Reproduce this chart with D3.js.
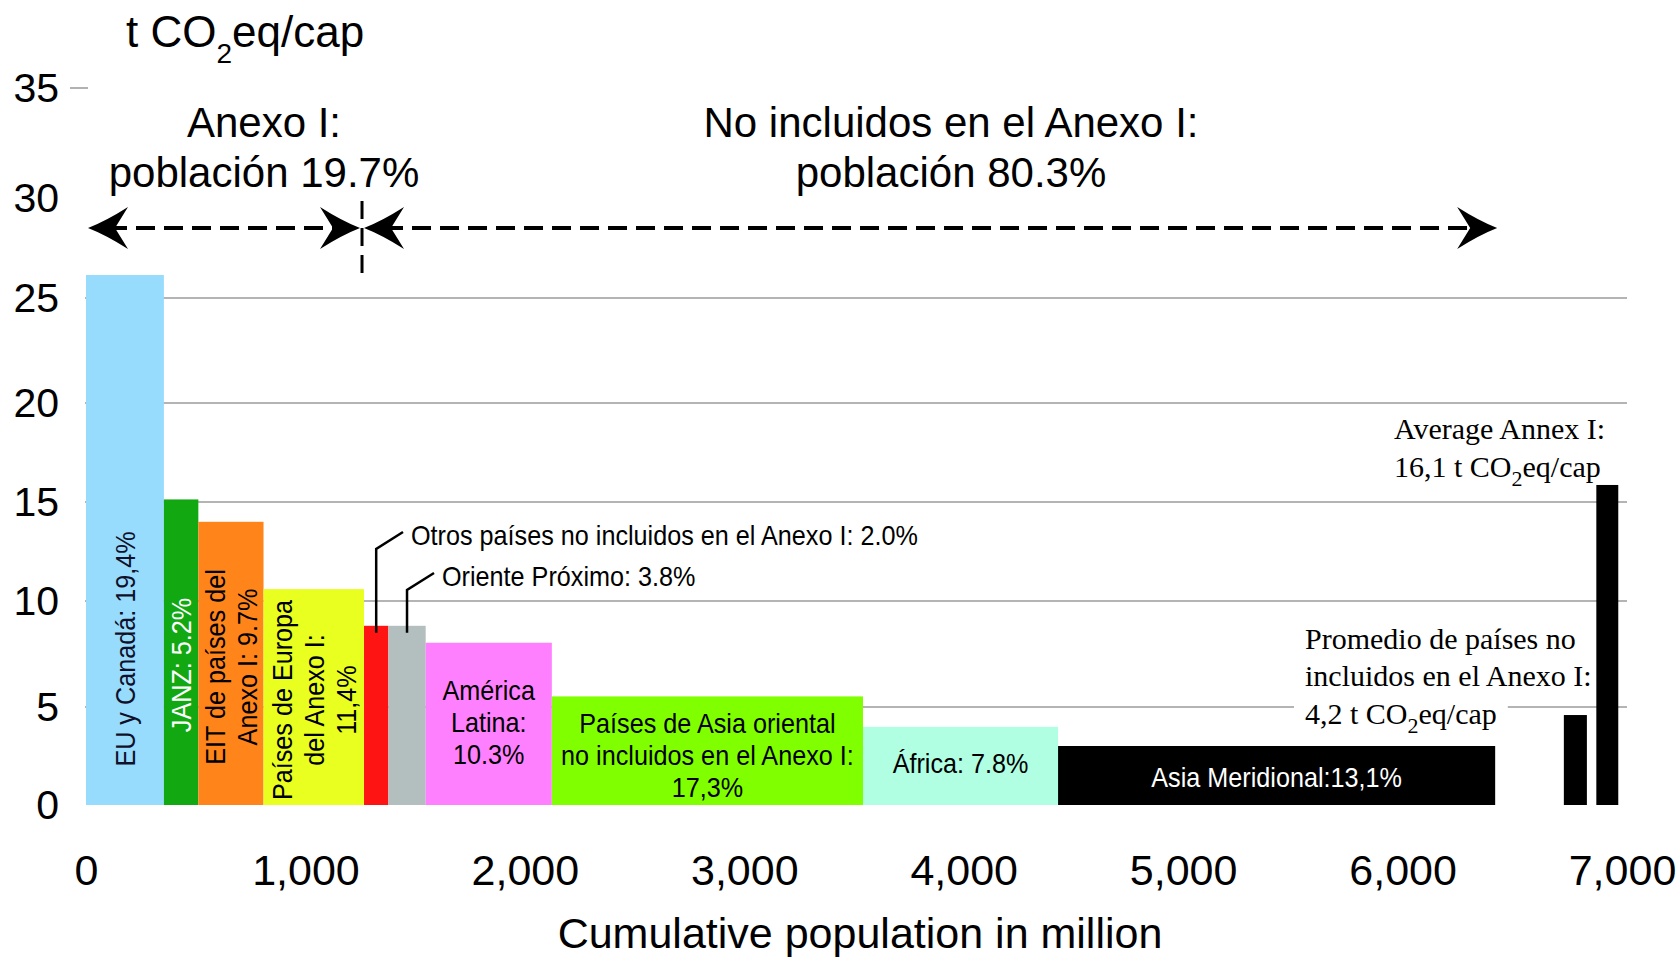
<!DOCTYPE html>
<html>
<head>
<meta charset="utf-8">
<script src="https://d3js.org/d3.v7.min.js"></script>
<style>
  body { margin: 0; background: #fff; }
  svg { display: block; font-family: "Liberation Sans", Arial, Helvetica, sans-serif; }
</style>
</head>
<body>
<svg id="chart" width="1679" height="957"></svg>
<script>

// regions in order along the cumulative population axis
var regions = ["EU y Canadá", "JANZ", "EIT de países del Anexo I", "Países de Europa del Anexo I",
  "Otros países no incluidos en el Anexo I", "Oriente Próximo", "América Latina",
  "Países de Asia oriental no incluidos en el Anexo I", "África", "Asia Meridional"];
// cumulative population (million) at the right edge of each block
var popEnd = [355, 512, 809, 1267, 1378, 1548, 2123, 3541, 4430, 6422];
// t CO2eq per capita (bar height)
var perCap = [26.15, 15.13, 14.0, 10.6, 8.83, 8.83, 8.03, 5.5, 3.99, 3.01];
// share of global emissions
var shares = ["19,4%", "5.2%", "9.7%", "11,4%", "2.0%", "3.8%", "10.3%", "17,3%", "7.8%", "13,1%"];
var colors = ["#97dcfd", "#11a811", "#ff841a", "#e9ff1f", "#ff1414", "#b3bfbf",
  "#ff80ff", "#80ff00", "#b0ffe2", "#000000"];

// the two average bars on the right
var avgFrom = [6735, 6883];
var avgTo = [6840, 6983];
var avgValue = [4.59, 15.86];
var avgText = ["4,2", "16,1"];

// population split Annex I / non Annex I
var annexShare = ["19.7%", "80.3%"];

var yTicks = [0, 5, 10, 15, 20, 25, 30, 35];
var yGrid = [5, 10, 15, 20, 25];
var xTicks = [0, 1000, 2000, 3000, 4000, 5000, 6000, 7000];

var serif = '"Liberation Serif", "Times New Roman", serif';

var svg = d3.select("#chart");

var x = d3.scaleLinear().domain([0, 7000]).range([86, 1622]);
// the original axis is not quite even, so follow its tick positions
var y = d3.scaleLinear().domain(yTicks).range([805, 707, 601, 502, 403, 298, 198, 88]);

var popStart = [0].concat(popEnd.slice(0, -1));

/* gridlines */
svg.append("g")
  .selectAll("line")
  .data(yGrid)
  .enter()
  .append("line")
  .attr("x1", x(0) - 1)
  .attr("x2", x(7000) + 5)
  .attr("y1", d => y(d))
  .attr("y2", d => y(d))
  .style("stroke", "#b4b4b4")
  .style("stroke-width", 2);

// little tick left over at 35
svg.append("line")
  .attr("x1", x(0) - 16).attr("x2", x(0) + 2)
  .attr("y1", y(35)).attr("y2", y(35))
  .style("stroke", "#999").style("stroke-width", 1.5);

/* axes */
var yAxis = svg.append("g")
  .attr("transform", "translate(" + (x(0) + 1) + ",0)")
  .call(d3.axisLeft(y).tickValues(yTicks).tickSize(0).tickPadding(28));
yAxis.select(".domain").remove();
yAxis.attr("font-family", null).attr("font-size", 41);

var xAxis = svg.append("g")
  .attr("transform", "translate(0," + y(0) + ")")
  .call(d3.axisBottom(x).tickValues(xTicks).tickSize(0).tickPadding(49).tickFormat(d3.format(",")));
xAxis.select(".domain").remove();
xAxis.attr("font-family", null).attr("font-size", 43);

svg.append("text")
  .attr("x", 860).attr("y", 948)
  .attr("text-anchor", "middle")
  .style("font-size", "43px")
  .text("Cumulative population in million");

var title = svg.append("text").attr("x", 126).attr("y", 47).style("font-size", "44px");
title.append("tspan").text("t CO");
title.append("tspan").attr("dy", 16).style("font-size", "28px").text("2");
title.append("tspan").attr("dy", -16).text("eq/cap");

/* white box behind the non-Annex average label (it cuts the 5 gridline) */
var boxLayer = svg.append("g");

/* bars */
svg.append("g")
  .selectAll("rect")
  .data(regions)
  .enter()
  .append("rect")
  .attr("x", (d, i) => x(popStart[i]))
  .attr("width", (d, i) => x(popEnd[i]) - x(popStart[i]))
  .attr("y", (d, i) => y(perCap[i]))
  .attr("height", (d, i) => y(0) - y(perCap[i]))
  .style("fill", (d, i) => colors[i]);

svg.append("g")
  .selectAll("rect")
  .data(avgValue)
  .enter()
  .append("rect")
  .attr("x", (d, i) => x(avgFrom[i]))
  .attr("width", (d, i) => x(avgTo[i]) - x(avgFrom[i]))
  .attr("y", d => y(d))
  .attr("height", d => y(0) - y(d))
  .style("fill", "#000");

/* labels inside the bars */
var barLabels = [
  { i: 0, lines: ["EU y Canadá: " + shares[0]], rotate: true, cy: 649, fill: "#10102a" },
  { i: 1, lines: ["JANZ: " + shares[1]], rotate: true, cy: 665, fill: "#fff" },
  { i: 2, lines: ["EIT de países del", "Anexo I: " + shares[2]], rotate: true, cy: 667 },
  { i: 3, lines: ["Países de Europa", "del Anexo I:", shares[3]], rotate: true, cy: 700 },
  { i: 6, lines: ["América", "Latina:", shares[6]], cy: 732 },
  { i: 7, lines: ["Países de Asia oriental", "no incluidos en el Anexo I:", shares[7]], cy: 765 },
  { i: 8, lines: ["África: " + shares[8]], cy: 773 },
  { i: 9, lines: ["Asia Meridional:" + shares[9]], cy: 787, fill: "#fff" }
];

barLabels.forEach(function(l) {
  var cx = (x(popStart[l.i]) + x(popEnd[l.i])) / 2;
  var n = l.lines.length;
  svg.append("g")
    .attr("transform", "translate(" + cx + "," + l.cy + ")" + (l.rotate ? " rotate(-90)" : "") + " scale(0.9,1)")
    .selectAll("text")
    .data(l.lines)
    .enter()
    .append("text")
    .attr("y", (d, k) => (k - (n - 1) / 2) * 32)
    .attr("dy", l.rotate ? "0.35em" : 0)
    .attr("text-anchor", "middle")
    .style("font-size", "28px")
    .style("fill", l.fill || "#000")
    .text(d => d);
});

/* callouts for the two thin bars */
var callouts = [
  { i: 4, tx: 411, ty: 545 },
  { i: 5, tx: 442, ty: 586 }
];

callouts.forEach(function(c) {
  var cx = (x(popStart[c.i]) + x(popEnd[c.i])) / 2;
  svg.append("polyline")
    .attr("points", [[cx, y(perCap[c.i]) + 7], [cx, c.ty + 4], [c.tx - 8, c.ty - 13]].join(" "))
    .style("fill", "none")
    .style("stroke", "#000")
    .style("stroke-width", 2.5);
  svg.append("text")
    .attr("transform", "translate(" + c.tx + "," + c.ty + ") scale(0.9,1)")
    .style("font-size", "28px")
    .text(regions[c.i] + ": " + shares[c.i]);
});

/* Annex I / non Annex I arrows */
var annexEnd = popEnd[3], nonAnnexEnd = popEnd[popEnd.length - 1];
var arrowY = 228;
var mid = x(annexEnd) - 2;

function arrowHead(tx, ty, dir) {
  return "M" + tx + "," + ty +
    " Q" + (tx - dir * 18) + "," + (ty - 7) + " " + (tx - dir * 40) + "," + (ty - 21) +
    " L" + (tx - dir * 27) + "," + ty +
    " L" + (tx - dir * 40) + "," + (ty + 21) +
    " Q" + (tx - dir * 18) + "," + (ty + 7) + " " + tx + "," + ty + " Z";
}

var segs = [[x(0) + 2, mid - 2], [mid + 2, x(nonAnnexEnd) + 2]];
svg.append("g")
  .selectAll("line")
  .data(segs)
  .enter()
  .append("line")
  .attr("x1", d => d[0] + 20)
  .attr("x2", d => d[1] - 20)
  .attr("y1", arrowY).attr("y2", arrowY)
  .style("stroke", "#000")
  .style("stroke-width", 4)
  .style("stroke-dasharray", "19,9");

var heads = [[segs[0][0], -1], [segs[0][1], 1], [segs[1][0], -1], [segs[1][1], 1]];
svg.append("g")
  .selectAll("path")
  .data(heads)
  .enter()
  .append("path")
  .attr("d", d => arrowHead(d[0], arrowY, d[1]))
  .style("fill", "#000");

svg.append("line")
  .attr("x1", mid).attr("x2", mid)
  .attr("y1", 201).attr("y2", 278)
  .style("stroke", "#000")
  .style("stroke-width", 3)
  .style("stroke-dasharray", "18,9");

var groupText = [
  { cx: 264, lines: ["Anexo I:", "población " + annexShare[0]] },
  { cx: 951, lines: ["No incluidos en el Anexo I:", "población " + annexShare[1]] }
];
groupText.forEach(function(g) {
  svg.append("g")
    .selectAll("text")
    .data(g.lines)
    .enter()
    .append("text")
    .attr("x", g.cx)
    .attr("y", (d, k) => 137 + k * 50)
    .attr("text-anchor", "middle")
    .style("font-size", "42px")
    .text(d => d);
});

/* serif notes for the average bars */
function co2Line(sel, prefix) {
  sel.append("tspan").text(prefix + " t CO");
  sel.append("tspan").attr("dy", 9).style("font-size", "22px").text("2");
  sel.append("tspan").attr("dy", -9).text("eq/cap");
}

var noteA = svg.append("g").style("font-family", serif).style("font-size", "30px");
noteA.append("text").attr("x", 1394).attr("y", 439).text("Average Annex I:");
co2Line(noteA.append("text").attr("x", 1394).attr("y", 477), avgText[1]);

var noteB = svg.append("g").style("font-family", serif).style("font-size", "30px");
noteB.append("text").attr("x", 1305).attr("y", 649).text("Promedio de países no");
noteB.append("text").attr("x", 1305).attr("y", 686).text("incluidos en el Anexo I:");
var last = noteB.append("text").attr("x", 1305).attr("y", 724);
co2Line(last, avgText[0]);

var bb = last.node().getBBox();
boxLayer.append("rect")
  .attr("x", bb.x - 11).attr("y", bb.y)
  .attr("width", bb.width + 22).attr("height", bb.height)
  .style("fill", "#fff");

</script>
</body>
</html>
